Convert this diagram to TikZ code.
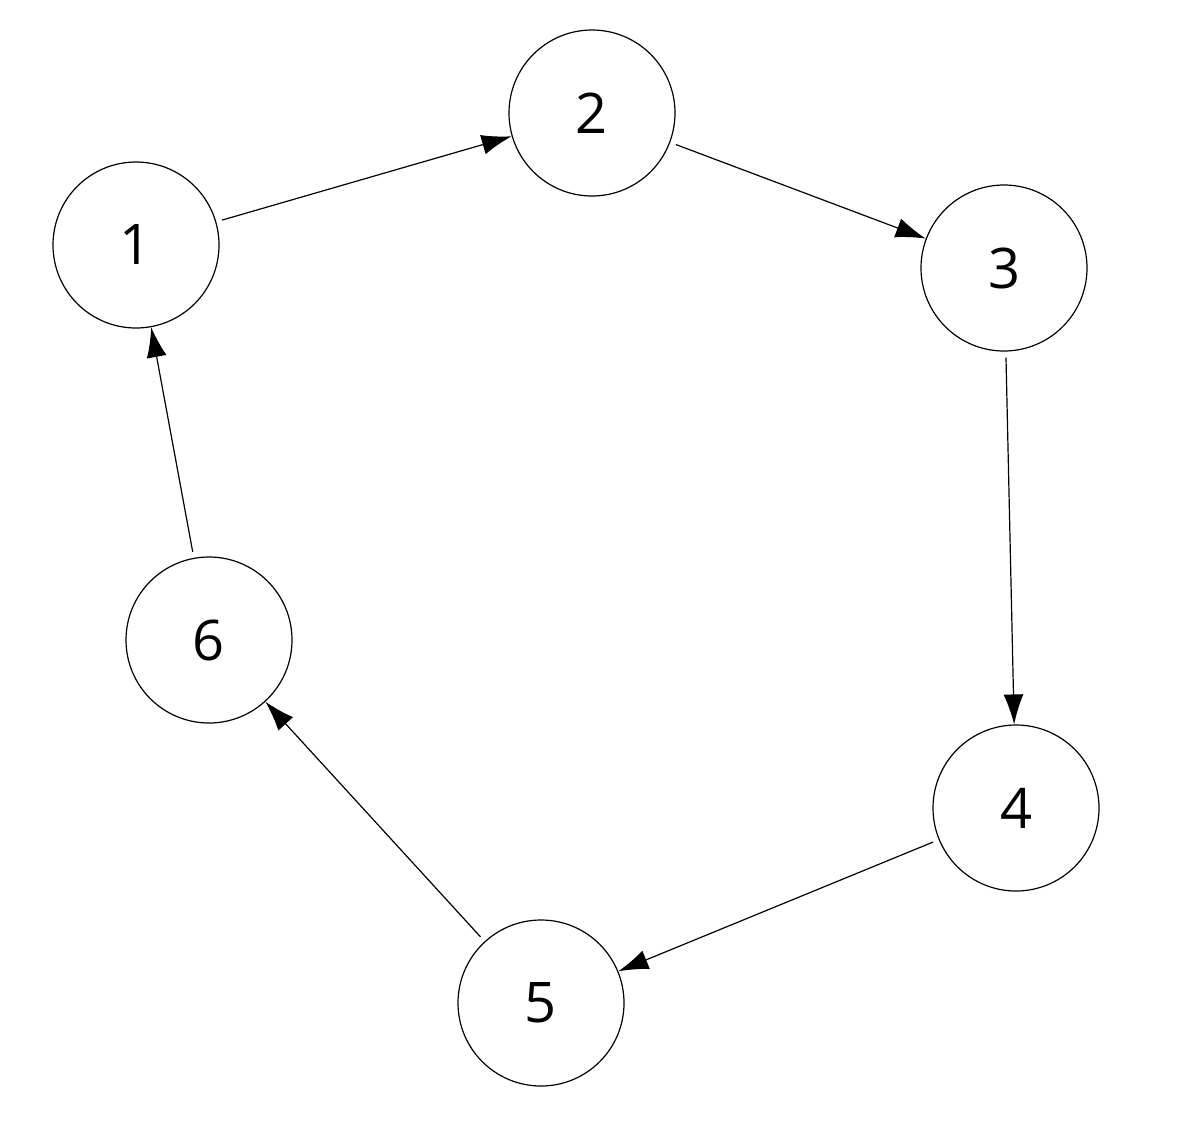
\documentclass[tikz,border=0pt]{standalone}
\usepackage{fontspec}
\setmainfont{Open Sans}
\usetikzlibrary{arrows.meta}
\begin{document}
\begin{tikzpicture}[x=1pt,y=-1pt,
  vert/.style={circle,draw,line width=1.2pt,minimum size=166pt,inner sep=0pt,font=\fontsize{56}{60}\selectfont},
  edge/.style={line width=1.2pt,-{Latex[length=30pt,width=20pt]},shorten <=6pt}]
\useasboundingbox (0,0) rectangle (1180,1138);
\node[vert] (n1) at (136,245) {1};
\node[vert] (n2) at (592,113) {2};
\node[vert] (n3) at (1004,268) {3};
\node[vert] (n4) at (1016,808) {4};
\node[vert] (n5) at (541,1003) {5};
\node[vert] (n6) at (209,640) {6};
\draw[edge] (n1) -- (n2);
\draw[edge] (n2) -- (n3);
\draw[edge] (n3) -- (n4);
\draw[edge] (n4) -- (n5);
\draw[edge] (n5) -- (n6);
\draw[edge] (n6) -- (n1);
\end{tikzpicture}
\end{document}
